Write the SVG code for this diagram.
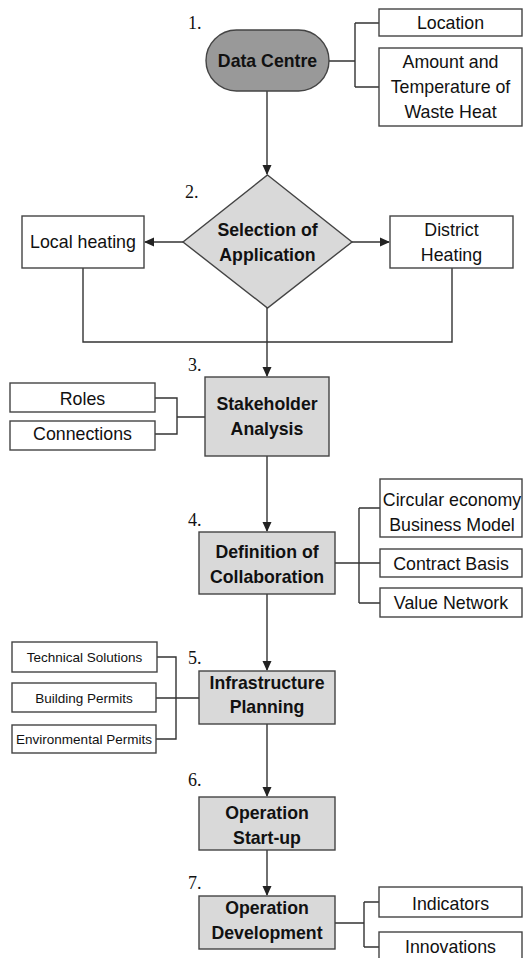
<svg xmlns="http://www.w3.org/2000/svg" width="524" height="958" viewBox="0 0 524 958">
<defs>
<marker id="ah" markerUnits="userSpaceOnUse" markerWidth="10" markerHeight="10" viewBox="0 0 10 10" refX="9" refY="5" orient="auto">
<path d="M0,0.5 L10,5 L0,9.5 Z" fill="#222"/>
</marker>
<style>
.w{fill:#fff;stroke:#444;stroke-width:1.4}
.g{fill:#d9d9d9;stroke:#444;stroke-width:1.4}
.t{font-family:"Liberation Sans",Arial,sans-serif;font-size:17.8px;fill:#111;text-anchor:middle}
.b{font-family:"Liberation Sans",Arial,sans-serif;font-size:17.7px;font-weight:bold;fill:#111;text-anchor:middle}
.s{font-family:"Liberation Sans",Arial,sans-serif;font-size:13.5px;fill:#111;text-anchor:middle}
.n{font-family:"Liberation Serif","Times New Roman",serif;font-size:18px;fill:#111}
.c{fill:none;stroke:#333;stroke-width:1.4}
</style>
</defs>
<g id="connectors">
<path class="c" d="M329 61 H355 M355 23 V87 M355 23 H379 M355 87 H379"/>
<path class="c" d="M267 91 V174" marker-end="url(#ah)"/>
<path class="c" d="M183 242 H145" marker-end="url(#ah)"/>
<path class="c" d="M352 242 H389" marker-end="url(#ah)"/>
<path class="c" d="M83 268 V342 H452 V268"/>
<path class="c" d="M267 308 V376" marker-end="url(#ah)"/>
<path class="c" d="M155 398 H177 V434 H155 M177 417 H205"/>
<path class="c" d="M267 456 V531" marker-end="url(#ah)"/>
<path class="c" d="M335 563 H380 M359 508 V603 M359 508 H380 M359 603 H380"/>
<path class="c" d="M267 594 V670" marker-end="url(#ah)"/>
<path class="c" d="M157 657 H176 V739 H156 M156 698 H199"/>
<path class="c" d="M267 724 V796" marker-end="url(#ah)"/>
<path class="c" d="M267 850 V895" marker-end="url(#ah)"/>
<path class="c" d="M335 923 H364 M364 902 V947 M364 902 H379 M364 947 H379"/>
</g>
<g id="n1"><text class="n" x="188" y="29">1.</text>
<rect x="206" y="30" width="123" height="61" rx="30.5" fill="#999" stroke="#444" stroke-width="1.4"/>
<text class="b" x="267.5" y="67">Data Centre</text></g>
<g id="location"><rect class="w" x="379" y="9" width="143" height="27"/><text class="t" x="450.5" y="29">Location</text></g>
<g id="amount"><rect class="w" x="379" y="48" width="143" height="78"/>
<text class="t" x="450.5" y="68">Amount and</text><text class="t" x="450.5" y="93">Temperature of</text><text class="t" x="450.5" y="118">Waste Heat</text></g>
<g id="n2"><text class="n" x="185" y="198">2.</text>
<polygon class="g" points="267.5,175 352,242 267.5,308 183,242"/>
<text class="b" x="267.5" y="236">Selection of</text><text class="b" x="267.5" y="261">Application</text></g>
<g id="local"><rect class="w" x="22" y="216" width="122" height="52"/><text class="t" x="83" y="248">Local heating</text></g>
<g id="district"><rect class="w" x="390" y="216" width="123" height="52"/>
<text class="t" x="451.5" y="236">District</text><text class="t" x="451.5" y="261">Heating</text></g>
<g id="n3"><text class="n" x="188" y="371">3.</text>
<rect class="g" x="205" y="377" width="124" height="79"/>
<text class="b" x="267" y="410">Stakeholder</text><text class="b" x="267" y="435">Analysis</text></g>
<g id="roles"><rect class="w" x="10" y="383" width="145" height="29"/><text class="t" x="82.5" y="405">Roles</text></g>
<g id="connections"><rect class="w" x="10" y="421" width="145" height="29"/><text class="t" x="82.5" y="440">Connections</text></g>
<g id="n4"><text class="n" x="188" y="526">4.</text>
<rect class="g" x="199" y="532" width="136" height="62"/>
<text class="b" x="267" y="558">Definition of</text><text class="b" x="267" y="583">Collaboration</text></g>
<g id="circular"><rect class="w" x="380" y="479" width="142" height="58"/>
<text class="t" x="452" y="506">Circular economy</text><text class="t" x="452" y="531">Business Model</text></g>
<g id="contract"><rect class="w" x="380" y="549" width="142" height="28"/><text class="t" x="451" y="570">Contract Basis</text></g>
<g id="value"><rect class="w" x="380" y="588" width="142" height="29"/><text class="t" x="451" y="609">Value Network</text></g>
<g id="n5"><text class="n" x="188" y="664">5.</text>
<rect class="g" x="199" y="671" width="136" height="53"/>
<text class="b" x="267" y="689">Infrastructure</text><text class="b" x="267" y="713">Planning</text></g>
<g id="tech"><rect class="w" x="12" y="642" width="145" height="30"/><text class="s" x="84.5" y="662">Technical Solutions</text></g>
<g id="building"><rect class="w" x="12" y="683" width="144" height="29"/><text class="s" x="84" y="703">Building Permits</text></g>
<g id="env"><rect class="w" x="12" y="725" width="144" height="28"/><text class="s" x="84" y="744">Environmental Permits</text></g>
<g id="n6"><text class="n" x="188" y="786">6.</text>
<rect class="g" x="199" y="797" width="136" height="53"/>
<text class="b" x="267" y="819">Operation</text><text class="b" x="267" y="844">Start-up</text></g>
<g id="n7"><text class="n" x="188" y="889">7.</text>
<rect class="g" x="199" y="896" width="136" height="53"/>
<text class="b" x="267" y="914">Operation</text><text class="b" x="267" y="939">Development</text></g>
<g id="indicators"><rect class="w" x="379" y="887" width="143" height="30"/><text class="t" x="450.5" y="910">Indicators</text></g>
<g id="innovations"><rect class="w" x="379" y="932" width="143" height="40"/><text class="t" x="450.5" y="953">Innovations</text></g>
</svg>
